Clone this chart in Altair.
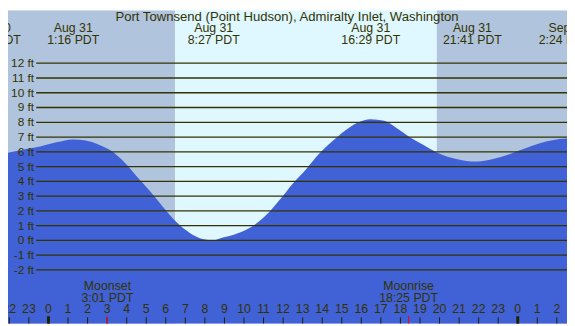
import altair as alt
import pandas as pd

# ---- data ----
TITLE = "Port Townsend (Point Hudson), Admiralty Inlet, Washington"

# tide curve: hours since Aug 31 00:00 PDT, height in ft
tide_hours = [-2.07, -1.08, -0.43, 0.41, 1.26, 1.90, 2.55, 3.25, 3.89, 4.54, 5.24, 5.88,
              6.53, 7.23, 7.87, 8.45, 8.87, 9.51, 10.21, 11.20, 11.85, 12.50, 13.19,
              13.84, 14.49, 15.18, 15.83, 16.48, 17.17, 17.82, 18.46, 19.16, 19.81,
              20.45, 21.15, 21.80, 22.45, 23.14, 23.78, 24.43, 25.13, 25.77, 26.52]
tide_ft = [5.93, 6.21, 6.36, 6.64, 6.84, 6.77, 6.50, 6.03, 5.27, 4.30, 3.26, 2.23,
           1.26, 0.50, 0.10, 0.00, 0.17, 0.39, 0.78, 1.80, 2.78, 3.86, 4.84,
           5.86, 6.68, 7.45, 7.99, 8.21, 8.10, 7.60, 7.01, 6.47, 5.99,
           5.64, 5.43, 5.34, 5.43, 5.64, 5.93, 6.25, 6.58, 6.79, 6.90]

# high / low tide labels
ext_hours = [-2.92, 1.267, 8.45, 16.483, 21.683, 26.40]
ext_dates = ["Aug 30", "Aug 31", "Aug 31", "Aug 31", "Aug 31", "Sep 1"]
ext_times = ["21:05 PDT", "1:16 PDT", "8:27 PDT", "16:29 PDT", "21:41 PDT", "2:24 PDT"]

# day / night shading
shade_start = [-2.07, 6.48, 19.86]
shade_end = [6.48, 19.86, 26.52]
shade_color = ["#B0C4DE", "#DFF7FF", "#B0C4DE"]

# moon events
moon_hours = [3.017, 18.417]
moon_names = ["Moonset", "Moonrise"]
moon_times = ["3:01 PDT", "18:25 PDT"]

# axis ticks
ft_levels = list(range(-2, 13))
hour_ticks = list(range(-2, 27))
midnights = [0, 24]

XMIN, XMAX = -2.07, 26.52
YMIN, YMAX = -5.65, 15.59
W, H = 567, 318
TXT = "#333300"
FONT = "Liberation Sans"

xs = alt.Scale(domain=[XMIN, XMAX], nice=False, zero=False)
ys = alt.Scale(domain=[YMIN, YMAX], nice=False, zero=False)

tide_df = pd.DataFrame({"h": tide_hours, "ft": tide_ft})
ext_df = pd.DataFrame({"h": ext_hours, "date": ext_dates, "time": ext_times})
shade_df = pd.DataFrame({"s": shade_start, "e": shade_end, "c": shade_color})
moon_df = pd.DataFrame({"h": moon_hours, "name": moon_names, "time": moon_times})
ft_df = pd.DataFrame({"ft": ft_levels, "label": [f"{v} ft" for v in ft_levels]})
hr_df = pd.DataFrame({"h": hour_ticks, "label": [str(v % 24) for v in hour_ticks]})
mid_df = pd.DataFrame({"h": midnights})
title_df = pd.DataFrame({"t": [TITLE]})

shade = alt.Chart(shade_df).mark_rect().encode(
    x=alt.X("s:Q", scale=xs, axis=None), x2="e:Q",
    y=alt.value(0), y2=alt.value(H),
    color=alt.Color("c:N", scale=None))

area = alt.Chart(tide_df).mark_area(color="#4161D6", interpolate="monotone").encode(
    x=alt.X("h:Q", scale=xs, axis=None),
    y=alt.Y("ft:Q", scale=ys, axis=None),
    y2=alt.datum(YMIN))

grid = alt.Chart(ft_df).mark_rule(color=TXT, strokeWidth=1.3).encode(
    y=alt.Y("ft:Q", scale=ys, axis=None),
    x=alt.value(28.6), x2=alt.value(W))

ylab = alt.Chart(ft_df).mark_text(align="right", baseline="middle", font=FONT,
                                  fontSize=12, color=TXT).encode(
    y=alt.Y("ft:Q", scale=ys, axis=None), x=alt.value(26.5), text="label:N")

title = alt.Chart(title_df).mark_text(align="center", baseline="middle", font=FONT,
                                      fontSize=13.3, color=TXT).encode(
    x=alt.value(283), y=alt.value(7), text="t:N")

ext_date = alt.Chart(ext_df).mark_text(baseline="middle", font=FONT, fontSize=12.5,
                                       color=TXT).encode(
    x=alt.X("h:Q", scale=xs, axis=None), y=alt.value(18.5), text="date:N")
ext_time = alt.Chart(ext_df).mark_text(baseline="middle", font=FONT, fontSize=12.5,
                                       color=TXT).encode(
    x=alt.X("h:Q", scale=xs, axis=None), y=alt.value(30.5), text="time:N")

moon_name = alt.Chart(moon_df).mark_text(baseline="middle", font=FONT, fontSize=12.5,
                                         color=TXT).encode(
    x=alt.X("h:Q", scale=xs, axis=None), y=alt.value(280), text="name:N")
moon_time = alt.Chart(moon_df).mark_text(baseline="middle", font=FONT, fontSize=12.5,
                                         color=TXT).encode(
    x=alt.X("h:Q", scale=xs, axis=None), y=alt.value(291.7), text="time:N")

hr_lab = alt.Chart(hr_df).mark_text(baseline="middle", font=FONT, fontSize=12.5,
                                    color=TXT).encode(
    x=alt.X("h:Q", scale=xs, axis=None), y=alt.value(303.5), text="label:N")
hr_tick = alt.Chart(hr_df).mark_rule(color="#222200", strokeWidth=1).encode(
    x=alt.X("h:Q", scale=xs, axis=None), y=alt.value(311.5), y2=alt.value(H))
mid_tick = alt.Chart(mid_df).mark_rule(color="#222200", strokeWidth=3).encode(
    x=alt.X("h:Q", scale=xs, axis=None), y=alt.value(310.3), y2=alt.value(H))
moon_tick = alt.Chart(moon_df).mark_rule(color="#FF0000", strokeWidth=1).encode(
    x=alt.X("h:Q", scale=xs, axis=None), y=alt.value(310.3), y2=alt.value(H))

chart = alt.layer(
    shade, area, grid, ylab, title, ext_date, ext_time,
    moon_name, moon_time, hr_lab, hr_tick, mid_tick, moon_tick
).properties(
    width=W, height=H, padding=0, autosize=alt.AutoSizeParams(type="none")
).configure_view(stroke=None, clip=True)

chart.save("out.html", embed_options={"renderer": "svg", "actions": False})
